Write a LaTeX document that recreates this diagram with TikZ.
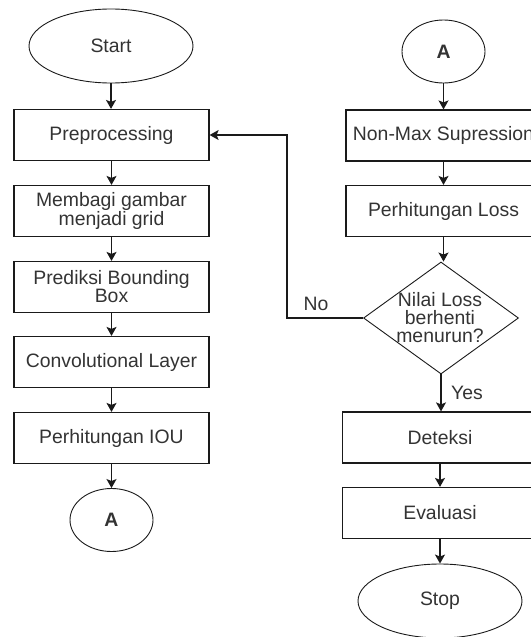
\documentclass[tikz,border=0pt]{standalone}
\usepackage{fontspec}
\setmainfont{Liberation Sans}
\usetikzlibrary{shapes.geometric,arrows.meta}
\definecolor{ink}{HTML}{1A1A1A}
\definecolor{txt}{HTML}{333333}

\begin{document}
\begin{tikzpicture}[x=1pt,y=-1pt,
  every node/.style={font=\fontsize{19.4}{18}\selectfont, text=txt},
  proc/.style={draw=ink, line width=1.2pt, rectangle, minimum width=195pt,
    minimum height=51pt, inner sep=0pt, align=center},
  term/.style={draw=ink, line width=0.9pt, ellipse, inner sep=0pt,
    minimum width=164pt, minimum height=74pt},
  conn/.style={draw=ink, line width=0.9pt, ellipse, inner sep=0pt,
    minimum width=83pt, minimum height=63pt,
    font=\fontsize{19.4}{18}\selectfont\bfseries},
  decision/.style={draw=ink, line width=0.9pt, diamond, inner sep=0pt,
    minimum width=155pt, minimum height=112pt},
  flow/.style={draw=ink, line width=1.3pt,
    -{Stealth[length=9pt,width=10pt,inset=2pt]}},
  lbl/.style={inner sep=0pt}
]
\useasboundingbox (0,0) rectangle (530,637);

% left column
\node[term] (start) at (111,46) {Start};
\node[proc] (pre)  at (111.5,135) {Preprocessing};
\node[proc] (grid) at (111.5,211) {Membagi gambar\\menjadi grid};
\node[proc] (bbox) at (111.5,287) {Prediksi Bounding\\Box};
\node[proc] (conv) at (111.5,362) {Convolutional Layer};
\node[proc] (iou)  at (111.5,438) {Perhitungan IOU};
\node[conn] (a1)   at (111.5,520) {A};

% right column
\node[conn] (a2)   at (443.5,51.5) {A};
\node[proc] (nms)  at (443.5,135.5) {Non-Max Supression};
\node[proc] (loss) at (443.5,211) {Perhitungan Loss};
\node[decision] (dec) at (441,318) {};
\node[lbl, align=center] (decT) at (440,318) {Nilai Loss\\berhenti\\menurun?};
\node[proc] (det)  at (440,437.5) {Deteksi};
\node[proc] (eval) at (440,513) {Evaluasi};
\node[term] (stop) at (440,601) {Stop};

% branch labels
\node[lbl] (no)  at (316,304) {No};
\node[lbl] (yes) at (467,393) {Yes};

% connectors
\draw[flow] (start.south) -- (start.south |- pre.north);
\draw[flow] (pre.south)  -- (pre.south |- grid.north);
\draw[flow] (grid.south) -- (grid.south |- bbox.north);
\draw[flow] (bbox.south) -- (bbox.south |- conv.north);
\draw[flow] (conv.south) -- (conv.south |- iou.north);
\draw[flow] (iou.south)  -- (iou.south |- a1.north);

\draw[flow] (a2.south)   -- (a2.south |- nms.north);
\draw[flow] (nms.south)  -- (nms.south |- loss.north);
\draw[flow] (loss.south) -- (loss.south |- dec.north);
\draw[flow] (dec.south)  -- (dec.south |- det.north);
\draw[flow] (det.south)  -- (det.south |- eval.north);
\draw[flow] (eval.south) -- (eval.south |- stop.north);

\coordinate (turn) at (287,135);
\draw[flow] (dec.west) -| (turn) -- (pre.east);
\end{tikzpicture}
\end{document}
